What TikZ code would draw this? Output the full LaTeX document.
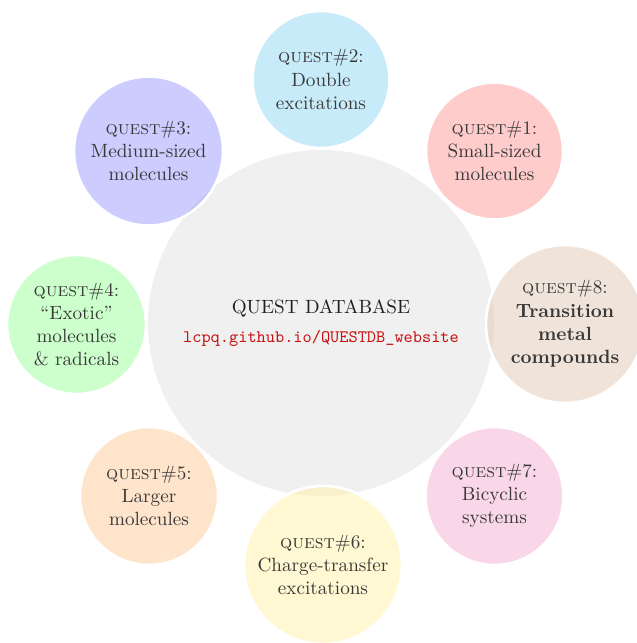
\documentclass[tikz,border=0pt]{standalone}
\definecolor{cgray}{RGB}{240,240,240}
\definecolor{c1}{RGB}{255,153,153}
\definecolor{c2}{RGB}{145,215,245}
\definecolor{c3}{RGB}{153,153,255}
\definecolor{c4}{RGB}{153,255,153}
\definecolor{c5}{RGB}{255,201,153}
\definecolor{c6}{RGB}{255,241,165}
\definecolor{c7}{RGB}{245,175,209}
\definecolor{c8}{RGB}{225,201,181}
\definecolor{urlred}{RGB}{200,16,16}
\begin{document}
\begin{tikzpicture}[x=0.5714pt,y=-0.5714pt]
\tikzset{
  bub/.style={circle, draw=white, line width=1.5pt, fill opacity=0.5, draw opacity=1,
    text opacity=1, text=black!78, align=center, inner sep=0pt,
    font=\fontsize{10.95}{13.3}\selectfont},
  center/.style={circle, fill=cgray, inner sep=0pt, align=center, text=black!88,
    font=\fontsize{10.95}{13.3}\selectfont}
}
\useasboundingbox (0,0) rectangle (636,643);
\node[center, minimum size=346*0.5714pt] (db) at (321,323)
  {QUEST DATABASE\\[3pt]{\fontsize{10}{12}\selectfont\color{urlred}\ttfamily lcpq.github.io/QUESTDB\_website}};
\node[bub, fill=c2, minimum size=137*0.5714pt] (q2) at (321,79.5)
  {\textsc{quest}\#2:\\Double\\excitations};
\node[bub, fill=c1, minimum size=137*0.5714pt] (q1) at (494.5,151)
  {\textsc{quest}\#1:\\Small-sized\\molecules};
\node[bub, fill=c8, minimum size=158*0.5714pt] (q8) at (565,324)
  {\textsc{quest}\#8:\\\textbf{Transition}\\\textbf{metal}\\\textbf{compounds}};
\node[bub, fill=c7, minimum size=138*0.5714pt] (q7) at (494.5,496)
  {\textsc{quest}\#7:\\Bicyclic\\systems};
\node[bub, fill=c6, minimum size=158*0.5714pt] (q6) at (323,565)
  {\textsc{quest}\#6:\\Charge-transfer\\excitations};
\node[bub, fill=c5, minimum size=138*0.5714pt] (q5) at (149,496)
  {\textsc{quest}\#5:\\Larger\\molecules};
\node[bub, fill=c4, minimum size=139*0.5714pt] (q4) at (76.5,324.5)
  {\textsc{quest}\#4:\\``Exotic''\\molecules\\\& radicals};
\node[bub, fill=c3, minimum size=149*0.5714pt] (q3) at (148.5,151)
  {\textsc{quest}\#3:\\Medium-sized\\molecules};
\end{tikzpicture}
\end{document}
